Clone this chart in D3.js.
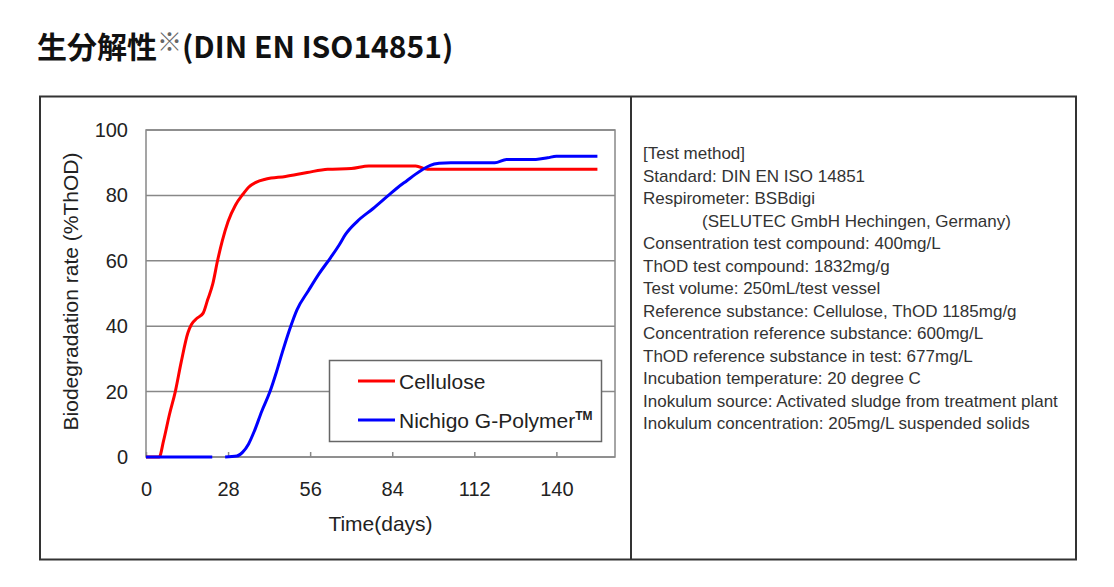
<!DOCTYPE html>
<html>
<head>
<meta charset="utf-8">
<script src="https://cdn.jsdelivr.net/npm/d3@7"></script>
<style>
  body { margin: 0; background: #fff; }
  svg { display: block; }
</style>
</head>
<body>
<svg></svg>
<script>
/* global d3 */
const width = 1114
const height = 587

const title = '生分解性'
const titleMark = '※'
const titleTail = '(DIN EN ISO14851)'
const xLabel = 'Time(days)'
const yLabel = 'Biodegradation rate (%ThOD)'

const xTicks = [0, 28, 56, 84, 112, 140]
const yTicks = [0, 20, 40, 60, 80, 100]

const seriesNames = ['Cellulose', 'Nichigo G-Polymer']
const seriesColors = ['#ff0000', '#0000ff']

/** Days and % ThOD */
const celluloseDays = [0, 4.5, 6, 8, 10, 12, 14.3, 15.5, 17.5, 19.5, 21, 22.8, 24.4, 26, 28, 30.5, 33.2, 35, 37.5, 41, 47.6, 55, 62, 70, 76, 84, 92, 96, 154]
const celluloseValues = [0, 0, 5, 13, 20, 29, 38, 40.5, 42.5, 44, 48, 53, 60, 66, 72, 77, 80.5, 82.5, 84, 85, 85.8, 87, 88, 88.2, 89, 89, 89, 88, 88]

const polymerDays = [0, 22.6, 25, 27, 31, 33, 35, 37, 39.5, 42.3, 44.5, 46.5, 49, 51.5, 55.5, 59, 63, 66, 68, 72, 77.5, 82.7, 86, 89, 92, 94.5, 97, 100, 104, 119, 123, 133, 137, 140, 154]
const polymerValues = [0, 0, null, 0, 0.3, 1.5, 4, 8, 14, 20, 26, 32, 39, 45, 51, 56, 61, 65, 68, 72, 76, 80, 82.5, 84.5, 86.5, 88, 89.2, 89.8, 90, 90, 91, 91, 91.5, 92, 92]

const methodLines = [
  '[Test method]',
  'Standard: DIN EN ISO 14851',
  'Respirometer: BSBdigi',
  '(SELUTEC GmbH Hechingen, Germany)',
  'Consentration test compound: 400mg/L',
  'ThOD test compound: 1832mg/g',
  'Test volume: 250mL/test vessel',
  'Reference substance: Cellulose, ThOD 1185mg/g',
  'Concentration reference substance: 600mg/L',
  'ThOD reference substance in test: 677mg/L',
  'Incubation temperature: 20 degree C',
  'Inokulum source: Activated sludge from treatment plant',
  'Inokulum concentration: 205mg/L suspended solids'
]
const methodIndent = [0, 0, 0, 1, 0, 0, 0, 0, 0, 0, 0, 0, 0]

const plot = { left: 146, right: 615, top: 130, bottom: 457 }
const chartFont = '"Liberation Sans", Arial, sans-serif'

const svg = d3.select('svg')
  .attr('width', width)
  .attr('height', height)

svg.append('rect')
  .attr('width', width)
  .attr('height', height)
  .attr('fill', '#fff')

/** Title */
const titleText = svg.append('text')
  .attr('x', 37)
  .attr('y', 58)
  .attr('font-family', '"Noto Sans CJK JP", "Noto Sans", sans-serif')
  .attr('font-weight', 'bold')
  .attr('font-size', 30)
  .attr('fill', '#111')
titleText.append('tspan').text(title)
titleText.append('tspan')
  .attr('font-size', 25)
  .attr('font-weight', 'normal')
  .attr('fill', '#666')
  .attr('dy', -7)
  .text(titleMark)
titleText.append('tspan')
  .attr('dy', 7)
  .text(titleTail)

/** Outer frame and divider */
svg.append('rect')
  .attr('x', 40)
  .attr('y', 96.5)
  .attr('width', 1036)
  .attr('height', 463)
  .attr('fill', 'none')
  .attr('stroke', '#333')
  .attr('stroke-width', 2)

svg.append('line')
  .attr('x1', 631).attr('x2', 631)
  .attr('y1', 96.5).attr('y2', 559.5)
  .attr('stroke', '#333')
  .attr('stroke-width', 2)

/** Scales */
const xScale = d3.scaleLinear()
  .domain([0, 160])
  .range([plot.left, plot.right])

const yScale = d3.scaleLinear()
  .domain([0, 100])
  .range([plot.bottom, plot.top])

/** Grid lines */
svg.append('g')
  .selectAll('line')
  .data(yTicks)
  .enter()
  .append('line')
  .attr('x1', plot.left)
  .attr('x2', plot.right)
  .attr('y1', d => yScale(d))
  .attr('y2', d => yScale(d))
  .attr('stroke', '#888')
  .attr('stroke-width', 1.5)

svg.append('rect')
  .attr('x', plot.left)
  .attr('y', plot.top)
  .attr('width', plot.right - plot.left)
  .attr('height', plot.bottom - plot.top)
  .attr('fill', 'none')
  .attr('stroke', '#888')
  .attr('stroke-width', 1.5)

/** Axes */
const xAxis = d3.axisBottom(xScale)
  .tickValues(xTicks)
  .tickSize(-5)
  .tickPadding(25)

const yAxis = d3.axisLeft(yScale)
  .tickValues(yTicks)
  .tickSize(0)
  .tickPadding(18)

const gx = svg.append('g')
  .attr('transform', `translate(0, ${plot.bottom})`)
  .call(xAxis)
gx.select('.domain').remove()
gx.selectAll('line').attr('stroke', '#888').attr('stroke-width', 1.5)

const gy = svg.append('g')
  .attr('transform', `translate(${plot.left}, 0)`)
  .call(yAxis)
gy.select('.domain').remove()

svg.selectAll('.tick text')
  .attr('font-family', chartFont)
  .attr('font-size', 20)
  .attr('fill', '#222')

svg.append('text')
  .attr('x', (plot.left + plot.right) / 2)
  .attr('y', 531)
  .attr('text-anchor', 'middle')
  .attr('font-family', chartFont)
  .attr('font-size', 21)
  .attr('fill', '#222')
  .text(xLabel)

svg.append('text')
  .attr('transform', `translate(78, ${(plot.top + plot.bottom) / 2 - 2}) rotate(-90)`)
  .attr('text-anchor', 'middle')
  .attr('font-family', chartFont)
  .attr('font-size', 21)
  .attr('fill', '#222')
  .text(yLabel)

/** Lines */
const seriesData = [
  celluloseDays.map((d, i) => ({ day: d, value: celluloseValues[i] })),
  polymerDays.map((d, i) => ({ day: d, value: polymerValues[i] }))
]

const line = d3.line()
  .defined(d => d.value !== null)
  .x(d => xScale(d.day))
  .y(d => yScale(d.value))
  .curve(d3.curveMonotoneX)

svg.append('g')
  .selectAll('path')
  .data(seriesData)
  .enter()
  .append('path')
  .attr('d', line)
  .attr('fill', 'none')
  .attr('stroke', (d, i) => seriesColors[i])
  .attr('stroke-width', 3)
  .attr('stroke-linejoin', 'round')

/** Legend */
const legend = svg.append('g')
legend.append('rect')
  .attr('x', 329.5)
  .attr('y', 360.5)
  .attr('width', 272)
  .attr('height', 81)
  .attr('fill', '#fff')
  .attr('stroke', '#666')
  .attr('stroke-width', 1.5)

const legendRows = legend.selectAll('g.row')
  .data(seriesNames)
  .enter()
  .append('g')
  .attr('class', 'row')
  .attr('transform', (d, i) => `translate(0, ${381 + i * 39})`)

legendRows.append('line')
  .attr('x1', 358)
  .attr('x2', 395)
  .attr('stroke', (d, i) => seriesColors[i])
  .attr('stroke-width', 3)

const legendText = legendRows.append('text')
  .attr('x', 399)
  .attr('y', 8)
  .attr('font-family', chartFont)
  .attr('font-size', 21)
  .attr('fill', '#222')
  .text(d => d)

legendText.filter((d, i) => i === 1)
  .append('tspan')
  .attr('font-size', 12)
  .attr('font-weight', 'bold')
  .attr('dy', -8)
  .text('TM')

/** Test method text */
svg.append('g')
  .selectAll('text')
  .data(methodLines)
  .enter()
  .append('text')
  .attr('x', (d, i) => methodIndent[i] ? 702 : 643)
  .attr('y', (d, i) => 159 + i * 22.5)
  .attr('font-family', chartFont)
  .attr('font-size', 17)
  .attr('fill', '#333')
  .text(d => d)
</script>
</body>
</html>
